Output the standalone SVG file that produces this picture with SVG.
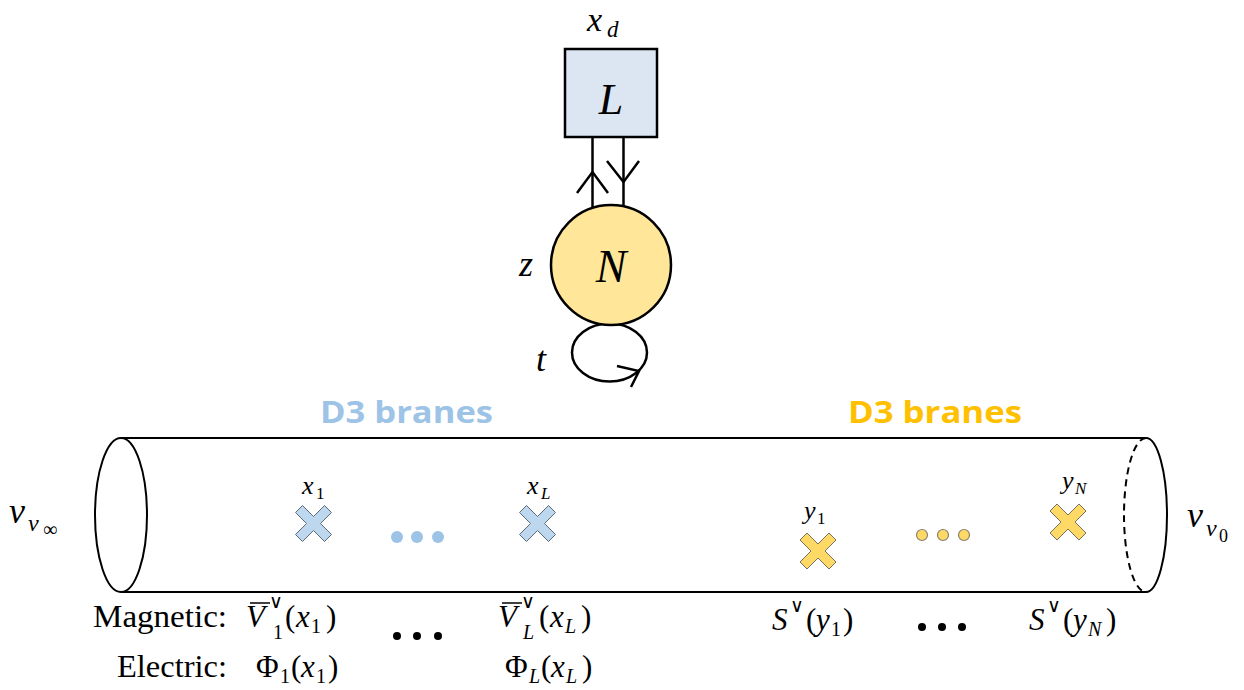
<svg xmlns="http://www.w3.org/2000/svg" width="1244" height="690" viewBox="0 0 1244 690">
<style>
.m{font-family:"Liberation Serif",serif;fill:#000}
.i{font-style:italic}
.s{font-family:"DejaVu Sans",sans-serif;fill:#000}
.ln{fill:none;stroke:#000;stroke-width:2.5}
.cy{fill:none;stroke:#000;stroke-width:2}
.h{font-family:"Open Sans","Liberation Sans",sans-serif;font-weight:bold;font-size:30px}
.bx{fill:#bdd7ee;stroke:#5b6b7a;stroke-width:1}
.yx{fill:#ffd966;stroke:#7a7060;stroke-width:1}
</style>
<defs>
<polygon id="cross" points="-18,-11 -11,-18 0,-7 11,-18 18,-11 7,0 18,11 11,18 0,7 -11,18 -18,11 -7,0"/>
</defs>
<rect width="1244" height="690" fill="#fff"/>

<g id="connectors">
<line class="ln" x1="592.5" y1="137" x2="592.5" y2="212"/>
<line class="ln" x1="623.5" y1="137" x2="623.5" y2="212"/>
<polyline class="ln" points="577,193 592.5,172 608,193" stroke-width="2"/>
<polyline class="ln" points="607,161 623.5,182 639,161" stroke-width="2"/>
<ellipse class="ln" cx="609.5" cy="352.5" rx="37.5" ry="29"/>
<polyline class="ln" points="617,366 639,371 631,387" stroke-width="2"/>
</g>

<g id="node-L">
<rect x="565" y="49" width="92" height="88" fill="#dce6f2" stroke="#000" stroke-width="2.5"/>
<text class="m i" x="611" y="114" font-size="44" text-anchor="middle">L</text>
<text class="m i" x="587" y="31" font-size="34">x</text>
<text class="m i" x="607" y="37" font-size="23">d</text>
</g>

<g id="node-N">
<circle cx="611" cy="265" r="60" fill="#ffe699" stroke="#000" stroke-width="2.5"/>
<text class="m i" x="611" y="282" font-size="46" text-anchor="middle">N</text>
<text class="m i" x="519" y="276" font-size="36">z</text>
<text class="m i" x="536" y="371" font-size="36">t</text>
</g>

<g id="cylinder">
<line class="cy" x1="121" y1="438" x2="1146" y2="438"/>
<line class="cy" x1="121" y1="592" x2="1146" y2="592"/>
<ellipse class="cy" cx="121" cy="515" rx="26" ry="77"/>
<path class="cy" d="M1146,438 A21,77 0 0 1 1146,592"/>
<path class="cy" d="M1146,438 A22,77 0 0 0 1146,592" stroke-dasharray="7,5"/>
<text class="m i" x="9" y="523" font-size="36">v</text>
<text class="m i" x="28" y="531" font-size="24">ν</text>
<text class="m" x="43" y="536" font-size="20">∞</text>
<text class="m i" x="1187" y="527" font-size="36">v</text>
<text class="m i" x="1206" y="536" font-size="24">ν</text>
<text class="m" x="1219" y="542" font-size="18">0</text>
</g>

<g id="blue-branes">
<text class="h" x="320" y="423" fill="#9dc3e6" textLength="173" lengthAdjust="spacingAndGlyphs">D3 branes</text>
<use href="#cross" class="bx" x="313.5" y="523.5"/>
<use href="#cross" class="bx" x="537.5" y="523.5"/>
<text class="m i" x="302" y="494" font-size="26">x</text>
<text class="m" x="316" y="499" font-size="17">1</text>
<text class="m i" x="527" y="494" font-size="26">x</text>
<text class="m i" x="541" y="499" font-size="17">L</text>
<g fill="#9dc3e6">
<circle cx="397" cy="537" r="6"/>
<circle cx="417" cy="537" r="6"/>
<circle cx="438" cy="537" r="6"/>
</g>
</g>

<g id="yellow-branes">
<text class="h" x="848" y="423" fill="#ffc000" textLength="174" lengthAdjust="spacingAndGlyphs">D3 branes</text>
<use href="#cross" class="yx" x="818" y="551"/>
<use href="#cross" class="yx" x="1068" y="522"/>
<text class="m i" x="804" y="519" font-size="26">y</text>
<text class="m" x="817" y="524" font-size="17">1</text>
<text class="m i" x="1062" y="489" font-size="26">y</text>
<text class="m i" x="1075" y="494" font-size="17">N</text>
<g fill="#ffd966" stroke="#8a8070" stroke-width="1.2">
<circle cx="922" cy="535" r="5.5"/>
<circle cx="943" cy="535" r="5.5"/>
<circle cx="964" cy="535" r="5.5"/>
</g>
</g>

<g id="labels">
<text class="m" x="93" y="627" font-size="31" textLength="134" lengthAdjust="spacingAndGlyphs">Magnetic:</text>
<text class="m" x="117" y="677" font-size="31" textLength="110" lengthAdjust="spacingAndGlyphs">Electric:</text>

<line x1="250" y1="603" x2="270" y2="603" stroke="#000" stroke-width="1.5"/>
<text class="m i" x="246" y="627" font-size="31">V</text>
<text class="s" x="269" y="608" font-size="19">∨</text>
<text class="m" x="273" y="639" font-size="20">1</text>
<text class="m" x="285" y="627" font-size="31">(</text>
<text class="m i" x="296" y="627" font-size="31">x</text>
<text class="m" x="311" y="633" font-size="20">1</text>
<text class="m" x="326" y="627" font-size="31">)</text>

<text class="m" x="256" y="677" font-size="31">Φ</text>
<text class="m" x="280" y="683" font-size="20">1</text>
<text class="m" x="291" y="677" font-size="31">(</text>
<text class="m i" x="301" y="677" font-size="31">x</text>
<text class="m" x="316" y="683" font-size="20">1</text>
<text class="m" x="328" y="677" font-size="31">)</text>

<line x1="502" y1="603" x2="522" y2="603" stroke="#000" stroke-width="1.5"/>
<text class="m i" x="498" y="627" font-size="31">V</text>
<text class="s" x="521" y="608" font-size="19">∨</text>
<text class="m i" x="523" y="639" font-size="20">L</text>
<text class="m" x="539" y="627" font-size="31">(</text>
<text class="m i" x="550" y="627" font-size="31">x</text>
<text class="m i" x="565" y="633" font-size="20">L</text>
<text class="m" x="581" y="627" font-size="31">)</text>

<text class="m" x="505" y="677" font-size="31">Φ</text>
<text class="m i" x="529" y="683" font-size="20">L</text>
<text class="m" x="541" y="677" font-size="31">(</text>
<text class="m i" x="551" y="677" font-size="31">x</text>
<text class="m i" x="566" y="683" font-size="20">L</text>
<text class="m" x="582" y="677" font-size="31">)</text>

<g fill="#000">
<circle cx="397" cy="636" r="4"/>
<circle cx="417" cy="636" r="4"/>
<circle cx="438" cy="636" r="4"/>
<circle cx="922" cy="627" r="4"/>
<circle cx="942" cy="627" r="4"/>
<circle cx="962" cy="627" r="4"/>
</g>

<text class="m i" x="772" y="630" font-size="31">S</text>
<text class="s" x="790" y="612" font-size="19">∨</text>
<text class="m" x="806" y="630" font-size="31">(</text>
<text class="m i" x="816" y="630" font-size="31">y</text>
<text class="m" x="831" y="636" font-size="20">1</text>
<text class="m" x="843" y="630" font-size="31">)</text>

<text class="m i" x="1029" y="630" font-size="31">S</text>
<text class="s" x="1047" y="612" font-size="19">∨</text>
<text class="m" x="1063" y="630" font-size="31">(</text>
<text class="m i" x="1073" y="630" font-size="31">y</text>
<text class="m i" x="1088" y="636" font-size="20">N</text>
<text class="m" x="1106" y="630" font-size="31">)</text>
</g>
</svg>
